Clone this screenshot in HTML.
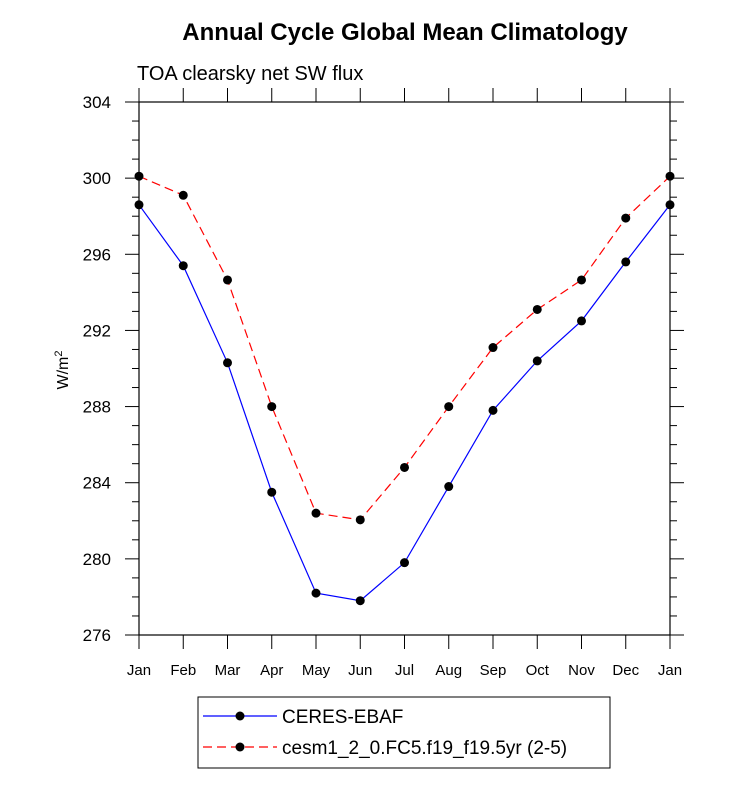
<!DOCTYPE html>
<html><head><meta charset="utf-8"><style>
body{margin:0;background:#fff;}
svg text{font-family:"Liberation Sans",Arial,sans-serif;}
</style></head><body>
<svg id="chart" width="733" height="789" xmlns="http://www.w3.org/2000/svg">
<text x="405" y="40" text-anchor="middle" font-size="24" font-weight="bold">Annual Cycle Global Mean Climatology</text>
<text x="137" y="80" font-size="20">TOA clearsky net SW flux</text>
<text transform="translate(68,370) rotate(-90)" text-anchor="middle" font-size="16">W/m<tspan dy="-6" font-size="11">2</tspan></text>
<g id="axes"></g>
<g id="series"></g>
<g>
<rect x="198" y="697" width="412" height="71" fill="none" stroke="#000" stroke-width="1"/>
<line x1="203" y1="716" x2="277" y2="716" stroke="#0000ff" stroke-width="1.2"/>
<circle cx="240" cy="716" r="4.5" fill="#000"/>
<text x="282" y="723" font-size="19">CERES-EBAF</text>
<line x1="203" y1="747" x2="277" y2="747" stroke="#ff0000" stroke-width="1.2" stroke-dasharray="9,5"/>
<circle cx="240" cy="747" r="4.5" fill="#000"/>
<text x="282" y="754" font-size="19">cesm1_2_0.FC5.f19_f19.5yr (2-5)</text>
</g>
</svg>
<script>
const months=["Jan","Feb","Mar","Apr","May","Jun","Jul","Aug","Sep","Oct","Nov","Dec","Jan"];
const ceres=[298.6,295.4,290.3,283.5,278.2,277.8,279.8,283.8,287.8,290.4,292.5,295.6,298.6];
const cesm=[300.1,299.1,294.65,288.0,282.4,282.05,284.8,288.0,291.1,293.1,294.65,297.9,300.1];
const yTicks=[276,280,284,288,292,296,300,304];
const X0=139,X1=670,Y0=635,Y1=102,YMIN=276,YMAX=304;
const NS="http://www.w3.org/2000/svg";
function xs(i){return X0+(X1-X0)*i/(months.length-1);}
function ys(v){return Y0-(Y0-Y1)*(v-YMIN)/(YMAX-YMIN);}
function mk(tag,attrs,parent){const e=document.createElementNS(NS,tag);for(const k in attrs)e.setAttribute(k,attrs[k]);parent.appendChild(e);return e;}
const ax=document.getElementById('axes');
const frame=mk('rect',{x:X0,y:Y1,width:X1-X0,height:Y0-Y1,fill:'none',stroke:'#000','stroke-width':1.2},ax);


for(let v=YMIN;v<=YMAX;v++){
  const y=ys(v);const major=(v-YMIN)%4===0;const L=major?14:7;
  mk('line',{x1:X0,y1:y,x2:X0-L,y2:y,stroke:'#000'},ax);
  mk('line',{x1:X1,y1:y,x2:X1+L,y2:y,stroke:'#000'},ax);
}
yTicks.forEach(v=>{
  const t=mk('text',{x:X0-28,y:ys(v)+6,'text-anchor':'end','font-size':17},ax);
  t.textContent=v;
  
  
});
months.forEach((m,i)=>{
  const x=xs(i);
  mk('line',{x1:x,y1:Y0,x2:x,y2:Y0+14,stroke:'#000'},ax);
  mk('line',{x1:x,y1:Y1,x2:x,y2:Y1-14,stroke:'#000'},ax);
  const t=mk('text',{x:x,y:Y0+40,'text-anchor':'middle','font-size':15},ax);
  t.textContent=m;
  
  
});
const sg=document.getElementById('series');
function draw(vals,color,dash,name){
  const g=mk('g',{},sg);
  
  
  const pts=vals.map((v,i)=>xs(i)+','+ys(v)).join(' ');
  const a={points:pts,fill:'none',stroke:color,'stroke-width':1.2};
  if(dash)a['stroke-dasharray']=dash;
  mk('polyline',a,g);
  vals.forEach((v,i)=>{
    const c=mk('circle',{cx:xs(i),cy:ys(v),r:4.5,fill:'#000'},g);
    
    
  });
}
draw(ceres,'#0000ff',null,'series-ceres-ebaf');
draw(cesm,'#ff0000','9,5','series-cesm');
</script>
</body></html>
